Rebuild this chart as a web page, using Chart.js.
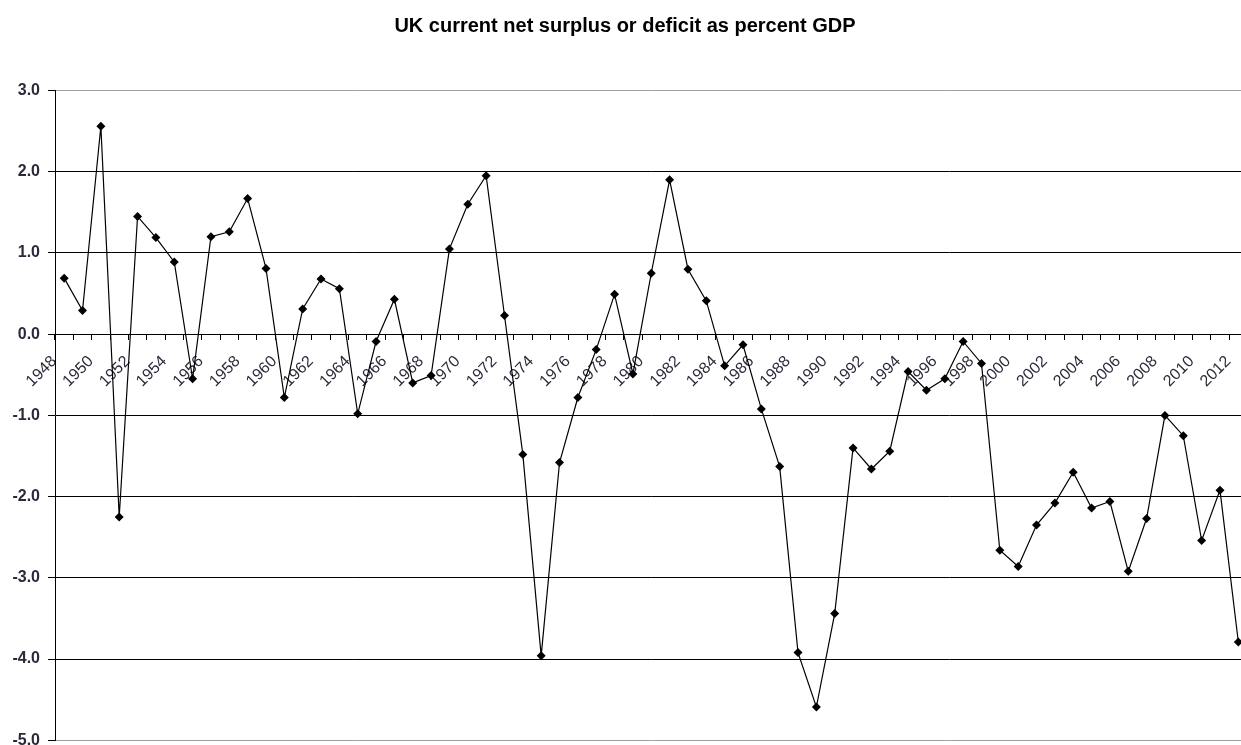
<!DOCTYPE html>
<html>
<head>
<meta charset="utf-8">
<script src="https://cdn.jsdelivr.net/npm/chart.js@4.4.0/dist/chart.umd.js"></script>
<style>
    html, body { margin: 0; padding: 0; background: #fff; overflow: hidden; }
    #wrap { width: 1241px; height: 745px; overflow: hidden; }
    #box { width: 1252px; height: 745px; }
</style>
</head>
<body>
<div id="wrap"><div id="box"><canvas id="chart"></canvas></div></div>
<script>
// years 1948..2012
const years = ['1948', '1949', '1950', '1951', '1952', '1953', '1954', '1955', '1956', '1957',
    '1958', '1959', '1960', '1961', '1962', '1963', '1964', '1965', '1966', '1967',
    '1968', '1969', '1970', '1971', '1972', '1973', '1974', '1975', '1976', '1977',
    '1978', '1979', '1980', '1981', '1982', '1983', '1984', '1985', '1986', '1987',
    '1988', '1989', '1990', '1991', '1992', '1993', '1994', '1995', '1996', '1997',
    '1998', '1999', '2000', '2001', '2002', '2003', '2004', '2005', '2006', '2007',
    '2008', '2009', '2010', '2011', '2012'];

// surplus / deficit, % of GDP
const surplus = [0.69, 0.29, 2.56, -2.25, 1.45, 1.19, 0.89, -0.55, 1.20, 1.26,
    1.67, 0.81, -0.78, 0.31, 0.68, 0.56, -0.98, -0.09, 0.43, -0.60,
    -0.51, 1.05, 1.60, 1.95, 0.23, -1.48, -3.96, -1.58, -0.78, -0.19,
    0.49, -0.49, 0.75, 1.90, 0.80, 0.41, -0.39, -0.13, -0.92, -1.63,
    -3.92, -4.59, -3.44, -1.40, -1.66, -1.44, -0.46, -0.69, -0.55, -0.09,
    -0.36, -2.66, -2.86, -2.35, -2.08, -1.70, -2.14, -2.06, -2.92, -2.27,
    -1.00, -1.25, -2.54, -1.92, -3.79];

const yMin = -5, yMax = 3;
const font = "'Liberation Sans', Arial, sans-serif";

new Chart(document.getElementById('chart'), {
    type: 'line',
    data: {
        labels: years,
        datasets: [{
            data: surplus,
            borderColor: '#000',
            borderWidth: 1.2,
            pointStyle: 'rectRot',
            pointRadius: 4.5,
            pointBackgroundColor: '#000',
            pointBorderColor: '#000',
            pointBorderWidth: 0,
            tension: 0,
        }],
    },
    options: {
        responsive: true, maintainAspectRatio: false, animation: false,
        layout: { padding: { top: 0.5, right: 2, bottom: 4.7, left: 0 } },
        plugins: {
            legend: { display: false }, tooltip: { enabled: false },
            title: { display: true, text: 'UK current net surplus or deficit as percent GDP', color: '#000',
                font: { family: font, size: 20, weight: 'bold' }, padding: { top: 14, bottom: 52 } },
        },
        scales: {
            x: {
                position: { y: 0 }, offset: true,
                grid: { display: true, drawOnChartArea: false, offset: true, tickLength: 5, color: '#000' },
                border: { display: true, color: '#000', width: 1 },
                ticks: {
                    autoSkip: false, maxRotation: 45, minRotation: 45, labelOffset: -10, padding: 13,
                    color: '#2a2a3a', font: { family: font, size: 16 },
                    callback: (v, i) => (i % 2 === 0 ? years[i] : ''),
                },
                afterFit: (s) => { s.height = 0; s.paddingLeft = 0; s.paddingRight = 0; },
            },
            y: {
                min: yMin, max: yMax,
                grid: { color: (c) => (c.tick.value === yMax || c.tick.value === yMin ? '#a0a0a0' : '#000'),
                    tickColor: '#000', tickLength: 7, lineWidth: 1 },
                border: { display: true, color: '#000', width: 1 },
                ticks: { stepSize: 1, padding: 8, color: '#2a2a3a', font: { family: font, size: 16, weight: 'bold' },
                    callback: (v) => v.toFixed(1) },
                afterFit: (s) => { s.width = 55; s.paddingTop = 0; s.paddingBottom = 0; },
            },
        },
    },
});
</script>
</body>
</html>
